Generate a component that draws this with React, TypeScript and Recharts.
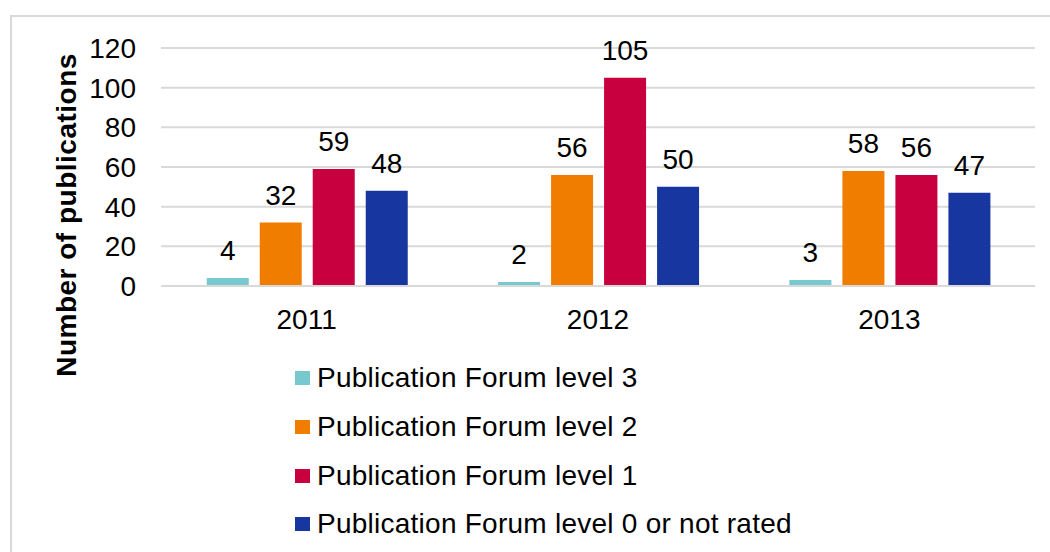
import { BarChart, Bar, XAxis, YAxis, CartesianGrid, LabelList } from 'recharts'

const years = ['2011', '2012', '2013']
const level3 = [4, 2, 3]
const level2 = [32, 56, 58]
const level1 = [59, 105, 56]
const level0 = [48, 50, 47]
const yTicks = [0, 20, 40, 60, 80, 100, 120]

const series = [
  { key: 'l3', name: 'Publication Forum level 3', color: '#78C8D0', values: level3 },
  { key: 'l2', name: 'Publication Forum level 2', color: '#F07D00', values: level2 },
  { key: 'l1', name: 'Publication Forum level 1', color: '#C8003F', values: level1 },
  { key: 'l0', name: 'Publication Forum level 0 or not rated', color: '#1736A0', values: level0 },
]

const data = years.map((year, i) => {
  const row: Record<string, string | number> = { year }
  series.forEach((s) => (row[s.key] = s.values[i]))
  return row
})

const font = '"Liberation Sans", Arial, sans-serif'
const textStyle = { fontSize: 28, fill: '#000', fontFamily: font }

function YTitle() {
  return (
    <text
      x={66}
      y={215}
      transform="rotate(-90 66 215)"
      textAnchor="middle"
      dominantBaseline="central"
      style={{ fontSize: 28, fontWeight: 'bold', fontFamily: font, fill: '#000', letterSpacing: 0.5 }}
    >
      Number of publications
    </text>
  )
}

export default function App() {
  return (
    <div style={{ position: 'absolute', left: 0, top: 0, width: 1050, height: 552, overflow: 'hidden', background: '#fff' }}>
      <div
        style={{
          position: 'absolute',
          left: 10,
          top: 15,
          width: 1100,
          height: 600,
          border: '2px solid #D9D9D9',
        }}
      />
      <div style={{ position: 'absolute', left: 0, top: 0 }}>
        <BarChart
          width={1050}
          height={552}
          data={data}
          margin={{ top: 48, right: 15, left: 0, bottom: 206 }}
          barCategoryGap="15.7%"
          barGap={11}
        >
          <CartesianGrid vertical={false} stroke="#D9D9D9" strokeWidth={2} />
          <XAxis
            dataKey="year"
            height={60}
            tickLine={false}
            axisLine={{ stroke: '#D9D9D9', strokeWidth: 2 }}
            tickSize={0}
            tickMargin={23}
            tick={textStyle}
          />
          <YAxis
            width={161}
            domain={[0, 120]}
            ticks={yTicks}
            interval={0}
            tickLine={false}
            axisLine={false}
            tickSize={0}
            tickMargin={25}
            tick={textStyle}
            label={<YTitle />}
          />
          {series.map((s) => (
            <Bar key={s.key} dataKey={s.key} name={s.name} fill={s.color} isAnimationActive={false}>
              <LabelList dataKey={s.key} position="top" offset={18} style={textStyle} />
            </Bar>
          ))}
        </BarChart>
      </div>
      <div
        style={{
          position: 'absolute',
          left: 295,
          top: 354,
          fontFamily: font,
          fontSize: 28,
          letterSpacing: 0.25,
          color: '#000',
        }}
      >
        {series.map((s) => (
          <div key={s.key} style={{ display: 'flex', alignItems: 'center', height: 48.7 }}>
            <span style={{ display: 'inline-block', width: 15, height: 14, background: s.color, marginRight: 7 }} />
            <span>{s.name}</span>
          </div>
        ))}
      </div>
    </div>
  )
}
